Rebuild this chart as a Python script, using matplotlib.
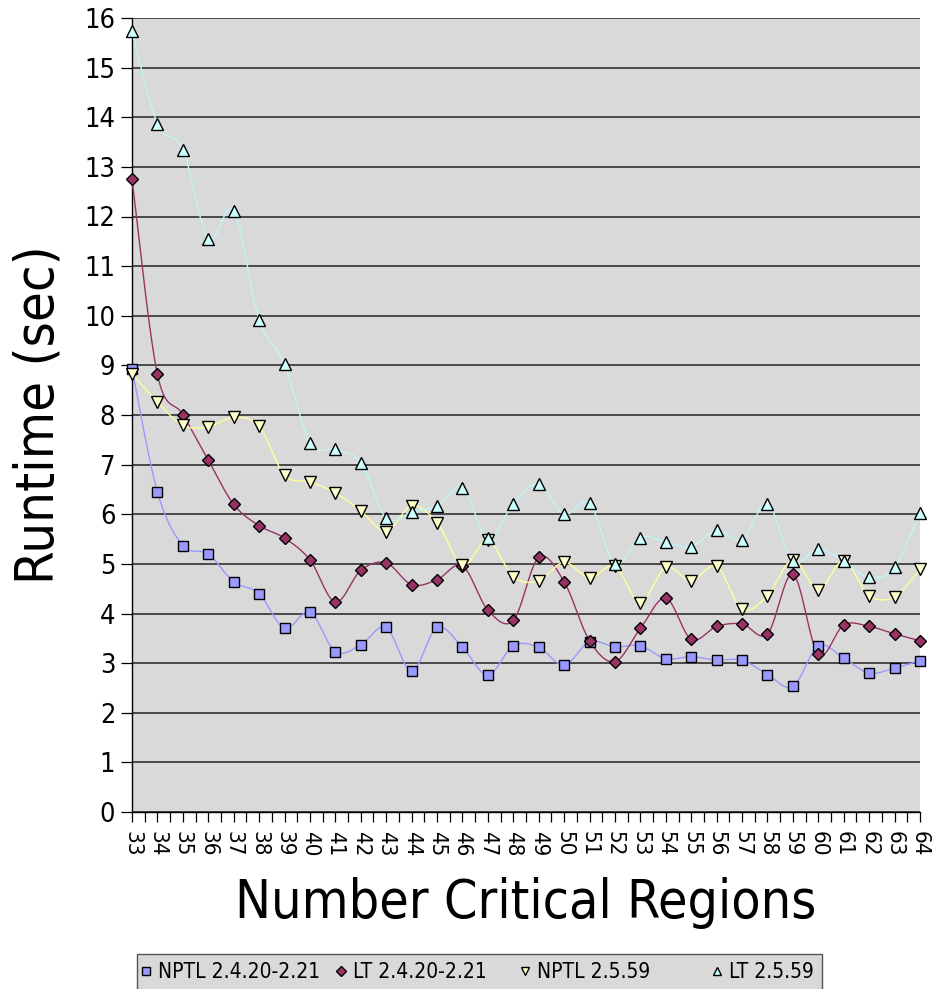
import numpy as np
import matplotlib
matplotlib.use('Agg')
import matplotlib.pyplot as plt
from matplotlib.ticker import MultipleLocator
from matplotlib.patches import Rectangle

plt.rcParams['font.family'] = ['DejaVu Sans']
plt.rcParams['font.stretch'] = 'condensed'

regions = list(range(33, 65))

nptl_old = [8.93, 6.45, 5.37, 5.20, 4.64, 4.40, 3.70, 4.03, 3.23, 3.37, 3.72,
            2.84, 3.72, 3.32, 2.76, 3.35, 3.32, 2.96, 3.43, 3.33, 3.35, 3.09,
            3.13, 3.06, 3.06, 2.77, 2.53, 3.35, 3.10, 2.80, 2.90, 3.05]
lt_old = [12.75, 8.82, 8.01, 7.09, 6.20, 5.77, 5.52, 5.08, 4.23, 4.87, 5.02,
          4.58, 4.68, 4.96, 4.07, 3.86, 5.13, 4.64, 3.45, 3.03, 3.70, 4.31,
          3.48, 3.74, 3.79, 3.59, 4.79, 3.18, 3.77, 3.74, 3.59, 3.45]
nptl_new = [8.83, 8.26, 7.79, 7.76, 7.95, 7.77, 6.79, 6.65, 6.43, 6.07, 5.65,
            6.17, 5.83, 4.97, 5.48, 4.74, 4.66, 5.03, 4.72, 4.95, 4.22, 4.93,
            4.66, 4.95, 4.09, 4.36, 5.08, 4.48, 5.06, 4.36, 4.34, 4.89]
lt_new = [15.73, 13.87, 13.35, 11.55, 12.12, 9.92, 9.03, 7.43, 7.31, 7.04, 5.92,
          6.05, 6.17, 6.53, 5.52, 6.21, 6.61, 6.00, 6.22, 5.00, 5.53, 5.44,
          5.35, 5.69, 5.48, 6.21, 5.05, 5.30, 5.05, 4.73, 4.93, 6.03]

series = [
    ('NPTL 2.4.20-2.21', nptl_old, 's', 7.5, '#9999FF', '#9999FF'),
    ('LT 2.4.20-2.21', lt_old, 'D', 6.5, '#993366', '#993366'),
    ('NPTL 2.5.59', nptl_new, 'v', 8.5, '#FFFFCC', '#FFFF99'),
    ('LT 2.5.59', lt_new, '^', 8.5, '#CCFFFF', '#BFF5F5'),
]

# left edge of each legend entry (pixels), excel spaces them evenly
legend_x = [138, 333, 517, 709]


def smooth(x, y, n=24):
    # catmull-rom, like excel's "smoothed line"
    x = np.asarray(x, float)
    y = np.asarray(y, float)
    px = np.concatenate([[x[0]], x, [x[-1]]])
    py = np.concatenate([[y[0]], y, [y[-1]]])
    t = np.linspace(0, 1, n, endpoint=False)
    b0 = (-t**3 + 2*t**2 - t) / 2
    b1 = (3*t**3 - 5*t**2 + 2) / 2
    b2 = (-3*t**3 + 4*t**2 + t) / 2
    b3 = (t**3 - t**2) / 2
    xs, ys = [], []
    for i in range(1, len(px) - 2):
        xs.append(b0*px[i-1] + b1*px[i] + b2*px[i+1] + b3*px[i+2])
        ys.append(b0*py[i-1] + b1*py[i] + b2*py[i+1] + b3*py[i+2])
    xs.append([x[-1]])
    ys.append([y[-1]])
    return np.concatenate(xs), np.concatenate(ys)


W, H = 941, 989
fig = plt.figure(figsize=(W/100, H/100), dpi=100)
ax = fig.add_axes([132/W, 1 - 812/H, (920 - 132)/W, (812 - 18)/H])
ax.set_facecolor('#D9D9D9')

handles = []
for k, (label, vals, mk, ms, face, lc) in enumerate(series):
    sx, sy = smooth(regions, vals)
    ax.plot(sx, sy, color=lc, lw=1.0, zorder=3 + k, clip_on=False)
    h, = ax.plot(regions, vals, ls='none', marker=mk, ms=ms, mfc=face,
                 mec='black', mew=1.0, label=label, zorder=7 + k, clip_on=False)
    handles.append(h)

ax.set_xlim(33, 64)
ax.set_ylim(0, 16)
ax.yaxis.set_major_locator(MultipleLocator(1))
ax.xaxis.set_major_locator(MultipleLocator(1))
ax.xaxis.set_minor_locator(MultipleLocator(0.5))
ax.grid(axis='y', color='#222222', lw=1.1)
ax.set_axisbelow(True)

for s in ['top', 'right']:
    ax.spines[s].set_visible(False)
for s in ['left', 'bottom']:
    ax.spines[s].set_color('black')
    ax.spines[s].set_linewidth(1.0)

ax.tick_params(axis='y', length=8, width=0.9, pad=4, labelsize=19.5)
ax.tick_params(axis='x', which='both', length=7.5, width=0.9, pad=6,
               labelsize=16, labelrotation=270)
ax.set_xticks(regions)
ax.set_xticklabels([str(r) for r in regions], va='top', ha='center')

ax.set_ylabel('Runtime (sec)', fontsize=39, labelpad=14)
ax.set_xlabel('Number Critical Regions', fontsize=38.5, labelpad=15)

# legend box, runs off the bottom of the image like the original
fig.patches.append(Rectangle((137/W, 1 - 1010/H), (822 - 137)/W, 56/H,
                             transform=fig.transFigure, fc='#D9D9D9',
                             ec='#555555', lw=1.0, zorder=0))
for h, x0 in zip(handles, legend_x):
    fig.legend(handles=[h], loc='center left',
               bbox_to_anchor=(x0/W, 1 - 972/H), fontsize=15, frameon=False,
               markerscale=0.75, handlelength=0.75, handletextpad=0.2,
               borderpad=0, borderaxespad=0)

fig.savefig('out.png', dpi=100)
